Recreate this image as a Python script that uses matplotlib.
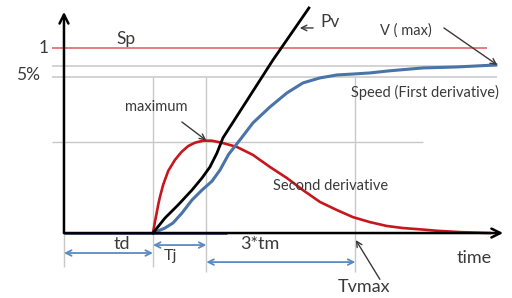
import numpy as np
import matplotlib.pyplot as plt

plt.rcParams['font.family'] = ['Lato', 'DejaVu Sans']

# key times (same units as the x data)
td = 2.0
tj_end = 3.2
tvmax = 6.55
t_end = 9.87

# levels
sp_level = 1.0
pct_hi = 0.903
pct_lo = 0.843
max_level = 0.492
y_top = 1.195

# second derivative (red)
t_red = [2.0, 2.04, 2.083, 2.12, 2.157, 2.231, 2.344, 2.494, 2.645, 2.793, 2.944, 3.13,
         3.319, 3.544, 3.888, 4.247, 4.629, 5.011, 5.371, 5.753, 6.135, 6.494, 6.876,
         7.258, 7.618, 8.0, 8.4, 8.9, 9.57]
v_red = [0.0, 0.055, 0.108, 0.155, 0.195, 0.262, 0.336, 0.395, 0.439, 0.47, 0.488, 0.499,
         0.499, 0.488, 0.465, 0.422, 0.357, 0.297, 0.232, 0.168, 0.124, 0.086, 0.059,
         0.038, 0.027, 0.02, 0.012, 0.005, 0.0]

# position Pv (black)
t_pv = [2.0, 2.27, 2.562, 2.876, 3.101, 3.281, 3.438, 3.573, 4.697, 5.506]
v_pv = [0.0, 0.081, 0.151, 0.232, 0.297, 0.357, 0.432, 0.514, 0.935, 1.216]

# speed (blue)
t_sp = [2.0, 2.27, 2.449, 2.652, 2.876, 3.101, 3.326, 3.506, 3.7, 3.955, 4.247,
        4.629, 5.011, 5.371, 5.753, 6.135, 6.494, 6.876, 7.3, 8.067, 8.809, 9.708]
v_sp = [0.0, 0.027, 0.054, 0.108, 0.178, 0.232, 0.28, 0.34, 0.425, 0.503, 0.595,
        0.681, 0.757, 0.811, 0.838, 0.854, 0.859, 0.865, 0.876, 0.892, 0.897, 0.908]

grey = '#c8c8c8'
red = '#c8161d'
blue = '#4a74a8'
arrow_blue = '#5b8ac6'
txt = '#3a3a3a'

fig = plt.figure(figsize=(5.12, 2.98), dpi=100)
ax = fig.add_axes([0, 0, 1, 1])
ax.set_xlim(-1.438, 10.07)
ax.set_ylim(-0.351, 1.259)
ax.axis('off')

# grey guide lines
ax.hlines([pct_hi, pct_lo], -0.27, 9.73, color=grey, lw=1.1)
ax.hlines(max_level, -0.27, 8.07, color=grey, lw=1.0)
ax.vlines(0, -0.184, 0, color=grey, lw=1.0)
ax.vlines(td, -0.184, pct_lo, color=grey, lw=1.0)
ax.vlines([tj_end, tvmax], -0.211, pct_lo, color=grey, lw=1.0)

# setpoint line
ax.hlines(sp_level, -0.27, 9.5, color='#e05a5a', lw=1.1)

# axes with arrows
ax.annotate('', xy=(0, y_top), xytext=(0, 0),
            arrowprops=dict(arrowstyle='->', color='black', lw=1.8, mutation_scale=16,
                            shrinkA=0, shrinkB=0))
ax.annotate('', xy=(t_end, 0), xytext=(0, 0),
            arrowprops=dict(arrowstyle='->', color='black', lw=1.8, mutation_scale=16,
                            shrinkA=0, shrinkB=0))
ax.plot([0, 3.66], [0, 0], color='#1f3864', lw=1.8, solid_capstyle='butt')

# curves
ax.plot(t_red, v_red, color=red, lw=1.9, solid_joinstyle='round')
ax.plot(t_sp, v_sp, color=blue, lw=2.2, solid_joinstyle='round')
ax.plot(t_pv, v_pv, color='black', lw=2.0, solid_joinstyle='round')

# labels
ax.text(-0.34, 1.0, '1', fontsize=12.5, ha='right', va='center', color=txt)
ax.text(1.39, 1.05, 'Sp', fontsize=12.5, ha='center', va='center', color=txt)
ax.text(-0.81, 0.855, '5%', fontsize=12.5, ha='center', va='center', color=txt)
ax.text(5.98, 1.14, 'Pv', fontsize=12.5, ha='center', va='center', color=txt)
ax.annotate('', xy=(5.3, 1.108), xytext=(5.6, 1.108),
            arrowprops=dict(arrowstyle='->', color=txt, lw=1.0, shrinkA=0, shrinkB=0))
ax.text(7.68, 1.092, 'V ( max)', fontsize=10.5, ha='center', va='center', color=txt)
ax.annotate('', xy=(9.74, 0.908), xytext=(8.54, 1.108),
            arrowprops=dict(arrowstyle='->', color=txt, lw=1.0, shrinkA=0, shrinkB=0))
ax.text(6.45, 0.757, 'Speed (First derivative)', fontsize=10.5, ha='left', va='center',
        color=txt)
ax.text(2.07, 0.681, 'maximum', fontsize=10.5, ha='center', va='center', color=txt)
ax.annotate('', xy=(3.2, 0.5), xytext=(2.65, 0.6),
            arrowprops=dict(arrowstyle='->', color=txt, lw=1.0, shrinkA=0, shrinkB=0))
ax.text(6.0, 0.254, 'Second derivative', fontsize=10.5, ha='center', va='center',
        color=txt)
ax.text(9.21, -0.135, 'time', fontsize=13, ha='center', va='center', color=txt)
ax.text(6.74, -0.29, 'Tvmax', fontsize=13, ha='center', va='center', color=txt)
ax.annotate('', xy=(6.56, -0.038), xytext=(7.1, -0.25),
            arrowprops=dict(arrowstyle='->', color=txt, lw=1.0, shrinkA=0, shrinkB=0))

# time interval arrows
ax.annotate('', xy=(0, -0.108), xytext=(td, -0.108),
            arrowprops=dict(arrowstyle='<->', color=arrow_blue, lw=1.3, shrinkA=0, shrinkB=0))
ax.text(1.3, -0.06, 'td', fontsize=13, ha='center', va='center', color=txt)
ax.annotate('', xy=(td, -0.065), xytext=(tj_end, -0.065),
            arrowprops=dict(arrowstyle='<->', color=arrow_blue, lw=1.3, shrinkA=0, shrinkB=0))
ax.text(2.4, -0.124, 'Tj', fontsize=11.5, ha='center', va='center', color=txt)
ax.annotate('', xy=(tj_end, -0.157), xytext=(tvmax, -0.157),
            arrowprops=dict(arrowstyle='<->', color=arrow_blue, lw=1.3, shrinkA=0, shrinkB=0))
ax.text(4.4, -0.06, '3*tm', fontsize=13, ha='center', va='center', color=txt)

fig.savefig('out.png', dpi=100)
